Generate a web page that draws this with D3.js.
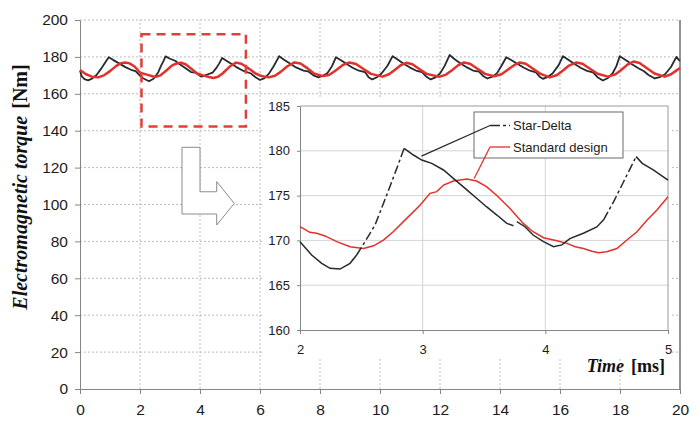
<!DOCTYPE html>
<html>
<head>
<meta charset="utf-8">
<script src="https://cdn.jsdelivr.net/npm/d3@7"></script>
<style>
  body { margin: 0; background: #fff; }
  #chart svg { display: block; }
</style>
</head>
<body>
<div id="chart"></div>
<script>
// ---- data: main view, 0..20 ms ----
const mainTicksX = [0, 2, 4, 6, 8, 10, 12, 14, 16, 18, 20];
const mainTicksY = [0, 20, 40, 60, 80, 100, 120, 140, 160, 180, 200];

// [time ms, torque Nm]
const starDelta = [
  [0, 172.5], [0.06, 169.5], [0.15, 168.0], [0.27, 167.3], [0.4, 168.2], [0.55, 170.2], [0.7, 173.5], [0.85, 177.2],
  [0.96, 179.8], [1.1, 178.4], [1.3, 176.5], [1.5, 174.6], [1.7, 173.0], [1.85, 172.3], [2.0, 169.9], [2.1, 168.4],
  [2.3, 166.8], [2.45, 168.2], [2.53, 169.9], [2.61, 171.7], [2.7, 175.1], [2.79, 178.0], [2.85, 180.3], [3.0, 179.0],
  [3.17, 177.9], [3.35, 175.8], [3.52, 173.8], [3.7, 171.8], [3.84, 171.5], [4.05, 169.3], [4.2, 170.2], [4.42, 171.5],
  [4.56, 174.3], [4.64, 176.5], [4.74, 179.4], [4.88, 177.9], [5.0, 176.7], [5.2, 174.6], [5.45, 172.4], [5.7, 171.0],
  [5.85, 169.0], [6.0, 167.5], [6.15, 168.5], [6.3, 171.0], [6.45, 174.8], [6.64, 180.4], [6.8, 178.5], [7.0, 176.4],
  [7.2, 174.3], [7.45, 172.6], [7.6, 172.2], [7.8, 169.8], [7.95, 168.9], [8.1, 169.8], [8.25, 171.3], [8.4, 175.0],
  [8.53, 179.8], [8.7, 178.2], [8.9, 176.0], [9.1, 174.0], [9.3, 172.5], [9.5, 171.8], [9.62, 169.0], [9.74, 167.8],
  [9.9, 169.0], [10.05, 171.0], [10.25, 175.2], [10.42, 180.4], [10.6, 178.4], [10.8, 176.2], [11.0, 174.2], [11.2, 172.6],
  [11.4, 171.8], [11.55, 169.2], [11.69, 167.8], [11.85, 168.9], [12.0, 171.0], [12.15, 175.0], [12.32, 181.0], [12.5, 178.6],
  [12.7, 176.3], [12.9, 174.3], [13.1, 172.6], [13.3, 172.0], [13.45, 169.5], [13.58, 168.3], [13.75, 169.3], [13.9, 171.2],
  [14.05, 175.2], [14.21, 179.8], [14.4, 178.0], [14.6, 176.0], [14.8, 174.1], [15.0, 172.5], [15.2, 171.6], [15.32, 169.3],
  [15.43, 168.1], [15.6, 169.2], [15.75, 171.0], [15.95, 175.4], [16.1, 180.4], [16.3, 178.2], [16.5, 176.0], [16.7, 174.0],
  [16.9, 172.4], [17.1, 171.6], [17.25, 169.0], [17.43, 167.2], [17.6, 168.6], [17.75, 171.0], [17.88, 175.0], [17.99, 180.4],
  [18.2, 178.2], [18.4, 176.0], [18.6, 174.0], [18.8, 172.2], [18.95, 170.2], [19.16, 168.3], [19.35, 169.2], [19.5, 170.6],
  [19.7, 174.5], [19.88, 180.0], [19.95, 178.5], [20.0, 177.8]
];

const standardDesign = [
  [0, 172.9], [0.2, 170.6], [0.4, 169.3], [0.6, 168.9], [0.8, 170.0], [1.0, 172.3], [1.2, 175.0], [1.35, 176.5],
  [1.5, 177.0], [1.65, 176.5], [1.82, 174.8], [2.0, 171.5], [2.2, 170.5], [2.5, 169.1], [2.68, 170.0], [2.87, 172.5],
  [3.06, 175.3], [3.2, 176.3], [3.36, 176.9], [3.52, 176.0], [3.71, 173.6], [3.9, 171.0], [4.1, 170.0], [4.3, 169.1],
  [4.45, 168.6], [4.6, 169.2], [4.75, 171.0], [5.0, 174.9], [5.2, 176.9], [5.38, 176.3], [5.6, 174.0], [5.85, 171.0],
  [6.05, 169.6], [6.28, 168.9], [6.5, 169.8], [6.7, 172.0], [6.9, 174.8], [7.15, 177.0], [7.35, 176.4], [7.55, 174.2],
  [7.8, 171.0], [8.1, 169.6], [8.3, 170.2], [8.5, 172.4], [8.75, 175.5], [8.98, 177.0], [9.2, 176.2], [9.45, 173.4],
  [9.7, 170.8], [10.08, 169.3], [10.3, 170.6], [10.5, 173.0], [10.7, 175.6], [10.88, 176.8], [11.08, 176.0], [11.3, 173.6],
  [11.55, 170.8], [11.97, 169.2], [12.2, 170.4], [12.4, 172.8], [12.6, 175.4], [12.8, 177.0], [13.0, 176.3], [13.25, 173.6],
  [13.5, 170.8], [13.8, 169.5], [14.05, 170.6], [14.27, 173.2], [14.47, 175.5], [14.66, 177.0], [14.86, 176.3], [15.1, 173.6],
  [15.35, 170.8], [15.66, 168.9], [15.9, 170.2], [16.1, 172.6], [16.3, 175.3], [16.55, 177.0], [16.75, 176.3], [17.0, 173.6],
  [17.25, 170.9], [17.6, 169.3], [17.85, 170.6], [18.05, 173.0], [18.25, 175.8], [18.45, 177.5], [18.65, 176.7], [18.9, 173.8],
  [19.15, 171.0], [19.49, 169.3], [19.7, 170.6], [19.85, 172.3], [20.0, 174.0]
];

// ---- data: zoomed view, 2..5 ms ----
const insetTicksX = [2, 3, 4, 5];
const insetTicksY = [160, 165, 170, 175, 180, 185];

const starDeltaZoom = [
  [2.0, 169.86], [2.095, 168.37], [2.177, 167.44], [2.245, 166.88], [2.326, 166.8], [2.408, 167.44], [2.462, 168.37],
  [2.53, 169.86], [2.612, 171.72], [2.707, 175.07], [2.789, 178.04], [2.849, 180.28], [2.925, 179.53], [2.993, 178.97],
  [3.074, 178.6], [3.17, 177.86], [3.25, 176.93], [3.346, 175.81], [3.44, 174.7], [3.52, 173.76], [3.605, 172.83],
  [3.686, 171.9], [3.74, 171.64], [3.754, null], [3.768, 172.1], [3.836, 171.5], [3.9, 170.6], [3.985, 169.86],
  [4.067, 169.3], [4.135, 169.5], [4.2, 170.2], [4.31, 170.8], [4.42, 171.5], [4.475, 172.3], [4.556, 174.3],
  [4.638, 176.55], [4.74, 179.35], [4.79, 178.6], [4.88, 177.86], [5.0, 176.74]
];

const standardZoom = [
  [2.0, 171.53], [2.08, 170.9], [2.136, 170.79], [2.204, 170.5], [2.3, 169.86], [2.408, 169.3], [2.517, 169.1],
  [2.6, 169.4], [2.68, 170.04], [2.76, 170.97], [2.87, 172.46], [2.98, 173.95], [3.06, 175.25], [3.115, 175.44],
  [3.17, 176.18], [3.25, 176.63], [3.36, 176.85], [3.44, 176.63], [3.52, 176.0], [3.6, 175.07], [3.71, 173.58],
  [3.82, 171.9], [3.9, 170.97], [3.985, 170.3], [4.094, 169.97], [4.176, 169.67], [4.244, 169.3], [4.31, 169.1],
  [4.38, 168.8], [4.434, 168.63], [4.5, 168.74], [4.584, 169.1], [4.665, 170.04], [4.747, 170.97], [4.83, 172.28],
  [4.91, 173.4], [5.0, 174.88]
];

const seriesNames = ["Star-Delta", "Standard design"];

// zoom frame drawn on the main view (ms, Nm)
const zoomFrame = { t0: 2.05, t1: 5.53, v0: 142.3, v1: 192.3 };
// arrow outline (ms, Nm)
const arrowShape = [[3.4, 131], [4.0, 131], [4.0, 106.9], [4.557, 106.9], [4.557, 112.4], [5.143, 100.6],
  [4.557, 88.9], [4.557, 94.85], [3.4, 94.85]];

// ---- drawing ----
const width = 700, height = 422;
const black = "#262a2d", red = "#e2312c", axisGrey = "#858585", textCol = "#1c1c1c";
const sans = "'Liberation Sans', Arial, sans-serif";
const serif = "'Liberation Serif', 'Times New Roman', serif";

const svg = d3.select("#chart")
  .append("svg")
  .attr("width", width)
  .attr("height", height);

const x = d3.scaleLinear().domain([0, 20]).range([80, 680]);
const y = d3.scaleLinear().domain([0, 200]).range([389, 20]);

// grid
svg.append("g")
  .selectAll("line")
  .data(mainTicksY.slice(1))
  .join("line")
  .attr("x1", x(0)).attr("x2", x(20))
  .attr("y1", d => y(d)).attr("y2", d => y(d))
  .attr("stroke", "#bcbcbc").attr("stroke-dasharray", "2,2");

svg.append("g")
  .selectAll("line")
  .data(mainTicksX.slice(1, -1))
  .join("line")
  .attr("x1", d => x(d)).attr("x2", d => x(d))
  .attr("y1", y(0)).attr("y2", y(200))
  .attr("stroke", "#bcbcbc").attr("stroke-dasharray", "2,2");

// right border
svg.append("line")
  .attr("x1", x(20)).attr("x2", x(20))
  .attr("y1", y(0)).attr("y2", y(200))
  .attr("stroke", "#4a4a4a").attr("stroke-width", 1.2);

// axes
function styleAxis(g, size) {
  g.select(".domain").attr("stroke", axisGrey);
  g.selectAll(".tick line").attr("stroke", axisGrey);
  g.selectAll(".tick text")
    .attr("fill", textCol)
    .style("font-family", sans)
    .style("font-size", size + "px");
}

svg.append("g")
  .attr("transform", `translate(${x(0)},0)`)
  .call(d3.axisLeft(y).tickValues(mainTicksY).tickFormat(d3.format("d")).tickSize(5).tickPadding(7).tickSizeOuter(0))
  .call(g => styleAxis(g, 15.5));

svg.append("g")
  .attr("transform", `translate(0,${y(0)})`)
  .call(d3.axisBottom(x).tickValues(mainTicksX).tickFormat(d3.format("d")).tickSize(5).tickPadding(10).tickSizeOuter(0))
  .call(g => styleAxis(g, 15.5));

// main curves
const mainLine = d3.line().x(d => x(d[0])).y(d => y(d[1]));

svg.append("path")
  .datum(starDelta)
  .attr("fill", "none")
  .attr("stroke", black)
  .attr("stroke-width", 1.8)
  .attr("stroke-linejoin", "round")
  .attr("d", mainLine);

svg.append("path")
  .datum(standardDesign)
  .attr("fill", "none")
  .attr("stroke", red)
  .attr("stroke-width", 2.5)
  .attr("stroke-linejoin", "round")
  .attr("d", mainLine);

// zoom frame
svg.append("rect")
  .attr("x", x(zoomFrame.t0))
  .attr("y", y(zoomFrame.v1))
  .attr("width", x(zoomFrame.t1) - x(zoomFrame.t0))
  .attr("height", y(zoomFrame.v0) - y(zoomFrame.v1))
  .attr("fill", "none")
  .attr("stroke", "#e0403a")
  .attr("stroke-width", 2.5)
  .attr("stroke-dasharray", "9,6");

// arrow
svg.append("path")
  .datum(arrowShape)
  .attr("fill", "#fff")
  .attr("stroke", "#8a8a8a")
  .attr("stroke-width", 1)
  .attr("d", d3.line().x(d => x(d[0])).y(d => y(d[1])).curve(d3.curveLinearClosed));

// ---- inset ----
svg.append("rect")
  .attr("x", 262).attr("y", 97)
  .attr("width", 410).attr("height", 261)
  .attr("fill", "#fff");

const ix = d3.scaleLinear().domain([2, 5]).range([300, 668]);
const iy = d3.scaleLinear().domain([160, 185]).range([330, 106]);

svg.append("g")
  .selectAll("line")
  .data(insetTicksY.slice(1, -1))
  .join("line")
  .attr("x1", ix(2)).attr("x2", ix(5))
  .attr("y1", d => iy(d)).attr("y2", d => iy(d))
  .attr("stroke", "#d4d4d4");

svg.append("g")
  .selectAll("line")
  .data(insetTicksX.slice(1, -1))
  .join("line")
  .attr("x1", d => ix(d)).attr("x2", d => ix(d))
  .attr("y1", iy(160)).attr("y2", iy(185))
  .attr("stroke", "#d4d4d4");

// inset frame top/right
svg.append("path")
  .attr("d", `M${ix(2)},${iy(185)}H${ix(5)}V${iy(160)}`)
  .attr("fill", "none")
  .attr("stroke", "#9a9a9a");

svg.append("g")
  .attr("transform", `translate(${ix(2)},0)`)
  .call(d3.axisLeft(iy).tickValues(insetTicksY).tickFormat(d3.format("d")).tickSize(3).tickPadding(7).tickSizeOuter(0))
  .call(g => styleAxis(g, 13));

svg.append("g")
  .attr("transform", `translate(0,${iy(160)})`)
  .call(d3.axisBottom(ix).tickValues(insetTicksX).tickFormat(d3.format("d")).tickSize(4).tickPadding(11).tickSizeOuter(0))
  .call(g => styleAxis(g, 13));

// inset curves
const insetLine = d3.line().x(d => ix(d[0])).y(d => iy(d[1]));

svg.append("path")
  .datum(standardZoom)
  .attr("fill", "none")
  .attr("stroke", red)
  .attr("stroke-width", 1.5)
  .attr("d", insetLine);

// star-delta: steep rising parts show the dash pattern, the rest reads as solid
const runs = [];
let cur = null;
for (let i = 1; i < starDeltaZoom.length; i++) {
  const a = starDeltaZoom[i - 1], b = starDeltaZoom[i];
  if (a[1] == null || b[1] == null) { cur = null; continue; }
  const steep = (b[1] - a[1]) / (b[0] - a[0]) > 18;
  if (!cur || cur.steep !== steep) { cur = { steep: steep, pts: [a] }; runs.push(cur); }
  cur.pts.push(b);
}
svg.append("g")
  .selectAll("path")
  .data(runs)
  .join("path")
  .attr("fill", "none")
  .attr("stroke", black)
  .attr("stroke-width", 1.5)
  .attr("stroke-dasharray", d => d.steep ? "9,3,3,3" : null)
  .attr("d", d => insetLine(d.pts));

// legend
const lg = svg.append("g");
lg.append("rect")
  .attr("x", 474).attr("y", 112)
  .attr("width", 149).attr("height", 46)
  .attr("fill", "#fff")
  .attr("stroke", "#6a6a6a");

const legendRows = [
  { name: seriesNames[0], color: black, y: 125.5, at: [2.99, 179.4], dash: "10,3,3,3" },
  { name: seriesNames[1], color: red, y: 147, at: [3.42, 176.9], dash: null }
];

lg.selectAll("path.leader")
  .data(legendRows)
  .join("path")
  .attr("class", "leader")
  .attr("fill", "none")
  .attr("stroke", d => d.color)
  .attr("stroke-width", 1.3)
  .attr("d", d => `M${ix(d.at[0])},${iy(d.at[1])}L490,${d.y}`);

lg.selectAll("line.key")
  .data(legendRows)
  .join("line")
  .attr("class", "key")
  .attr("x1", 490).attr("x2", 510)
  .attr("y1", d => d.y).attr("y2", d => d.y)
  .attr("stroke", d => d.color)
  .attr("stroke-width", 1.3)
  .attr("stroke-dasharray", d => d.dash);

lg.selectAll("text")
  .data(legendRows)
  .join("text")
  .attr("x", 513)
  .attr("y", d => d.y + 4.5)
  .attr("fill", textCol)
  .style("font-family", sans)
  .style("font-size", "13px")
  .text(d => d.name);

// axis titles
const yTitle = svg.append("text")
  .attr("transform", "translate(27,187) rotate(-90)")
  .attr("text-anchor", "middle")
  .attr("fill", "#111")
  .style("font-family", serif)
  .style("font-size", "20px")
  .style("font-weight", "bold");
yTitle.append("tspan").style("font-style", "italic").text("Electromagnetic torque");
yTitle.append("tspan").attr("dx", 7).text("[Nm]");

const xTitle = svg.append("text")
  .attr("x", 665)
  .attr("y", 372)
  .attr("text-anchor", "end")
  .attr("fill", "#111")
  .style("font-family", serif)
  .style("font-size", "18px")
  .style("font-weight", "bold");
xTitle.append("tspan").style("font-style", "italic").text("Time");
xTitle.append("tspan").attr("dx", 7).text("[ms]");
</script>
</body>
</html>
